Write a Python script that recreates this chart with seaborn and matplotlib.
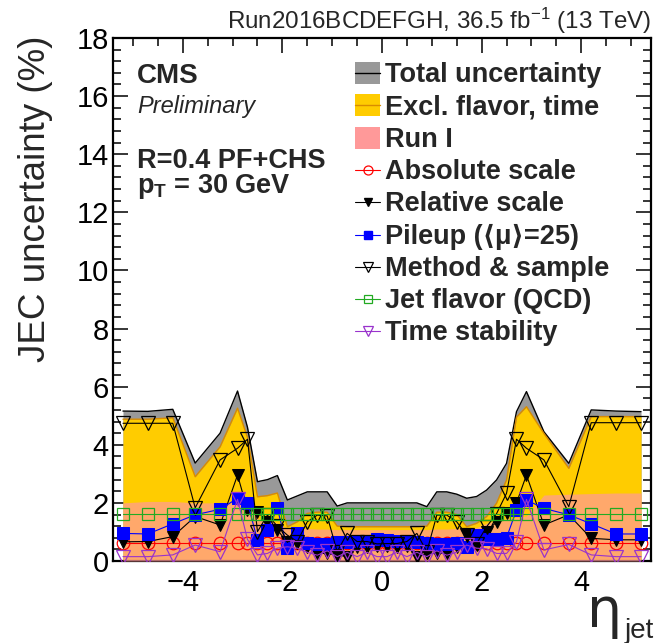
import numpy as np
import pandas as pd
import matplotlib
matplotlib.use("Agg")
import matplotlib.pyplot as plt
import seaborn as sns
from matplotlib.patches import Rectangle
from matplotlib.lines import Line2D
from matplotlib.ticker import MultipleLocator

# ---- data -------------------------------------------------------------
eta = [-5.2, -4.7, -4.2, -3.75, -3.25, -2.9, -2.7, -2.5, -2.3, -2.1,
       -1.9, -1.7, -1.5, -1.3, -1.1, -0.9, -0.7, -0.5, -0.3, -0.1,
       0.1, 0.3, 0.5, 0.7, 0.9, 1.1, 1.3, 1.5, 1.7, 1.9,
       2.1, 2.3, 2.5, 2.7, 2.9, 3.25, 3.75, 4.2, 4.7, 5.2]

total = [5.16, 5.15, 5.22, 3.37, 4.40, 5.85, 4.60, 2.73, 2.80, 2.94,
         2.10, 2.24, 2.38, 2.38, 2.38, 1.89, 2.00, 2.00, 2.00, 2.00,
         2.00, 2.00, 2.00, 2.00, 1.87, 2.38, 2.38, 2.30, 2.16, 2.22,
         2.44, 2.79, 3.36, 5.14, 5.83, 4.45, 3.36, 5.20, 5.16, 5.14]

excl_flavor_time = [4.88, 4.88, 4.93, 2.90, 3.93, 5.26, 4.25, 2.21, 2.25, 2.34,
                    1.18, 1.35, 1.64, 1.68, 1.68, 1.20, 1.18, 1.18, 1.18, 1.18,
                    1.18, 1.18, 1.18, 1.18, 1.20, 1.68, 1.68, 1.60, 1.18, 1.30,
                    1.53, 1.99, 2.79, 4.95, 5.31, 4.39, 3.19, 4.97, 4.97, 4.97]

run1 = [2.00, 2.05, 2.05, 2.00, 2.00, 2.00, 2.00, 1.45, 1.40, 1.30,
        1.12, 1.12, 1.12, 1.10, 1.10, 1.08, 1.08, 1.08, 1.08, 1.08,
        1.08, 1.08, 1.08, 1.08, 1.08, 1.10, 1.10, 1.12, 1.12, 1.15,
        1.30, 1.40, 1.45, 1.50, 1.55, 2.27, 2.30, 2.32, 2.34, 2.34]

absolute = [0.63] * 40

relative = [0.66, 0.67, 0.84, 1.53, 1.24, 2.96, 1.75, 1.70, 1.35, 1.07,
            0.64, 0.64, 0.49, 0.26, 0.26, 0.21, 0.15, 0.49, 0.49, 0.52,
            0.52, 0.49, 0.52, 0.15, 0.26, 0.26, 0.26, 0.49, 0.89, 0.60,
            1.00, 1.35, 1.64, 2.00, 2.96, 1.24, 1.59, 0.78, 0.73, 0.73]

pileup = [0.95, 0.93, 1.28, 1.59, 1.78, 2.16, 2.01, 0.72, 1.07, 1.81,
          0.44, 0.95, 0.63, 0.60, 0.60, 0.67, 0.67, 0.70, 0.70, 0.75,
          0.72, 0.70, 0.70, 0.67, 0.63, 0.60, 0.60, 0.63, 0.49, 0.89,
          0.74, 0.74, 0.80, 1.76, 2.10, 1.81, 1.59, 1.28, 0.93, 0.93]

method = [4.74, 4.74, 4.74, 1.83, 3.48, 3.88, 4.19, 1.01, 1.58, 1.20,
          0.89, 0.67, 1.35, 1.58, 1.55, 0.32, 0.95, 0.67, 0.67, 0.59,
          0.60, 0.60, 0.67, 0.95, 0.32, 1.58, 1.58, 1.35, 0.89, 0.60,
          1.18, 1.63, 2.33, 4.19, 3.88, 3.48, 1.87, 4.76, 4.76, 4.76]

flavor = [1.62] * 40

time_stab = [0.15, 0.15, 0.21, 0.55, 0.32, 2.12, 0.74, 0.21, 0.26, 0.44,
             0.49, 0.44, 0.30, 0.20, 0.35, 0.15, 0.30, 0.15, 0.30, 0.15,
             0.15, 0.30, 0.15, 0.30, 0.15, 0.35, 0.20, 0.30, 0.55, 0.44,
             0.42, 0.26, 0.26, 0.66, 2.12, 0.38, 0.57, 0.21, 0.15, 0.15]

legend_labels = ["Total uncertainty", "Excl. flavor, time", "Run I",
                 "Absolute scale", "Relative scale", "Pileup (\u27e8\u03bc\u27e9=25)",
                 "Method & sample", "Jet flavor (QCD)", "Time stability"]

df = pd.DataFrame({"eta": eta, "total": total, "excl": excl_flavor_time,
                   "run1": run1, "absolute": absolute, "relative": relative,
                   "pileup": pileup, "method": method, "flavor": flavor,
                   "time": time_stab})

# ---- style -------------------------------------------------------------
sns.set_style("ticks")
FONTS = ["Liberation Sans", "DejaVu Sans"]
plt.rcParams["font.family"] = FONTS
plt.rcParams["mathtext.fontset"] = "custom"
plt.rcParams["mathtext.rm"] = "Liberation Sans"
plt.rcParams["mathtext.it"] = "Liberation Sans:italic"
plt.rcParams["mathtext.bf"] = "Liberation Sans:bold"

W, H = 657, 643
fig = plt.figure(figsize=(W / 100, H / 100), dpi=100)
ax = fig.add_axes([113 / W, 1 - 561 / H, 538 / W, 523 / H])

GRAY = "#999999"
YELLOW = "#ffcc00"
ORANGE_LINE = "#d98c00"
PINK = "#ff9999"
PURPLE = "#9933cc"
GREEN = "#22aa22"

# uncertainty bands
ax.fill_between(df["eta"], 0, df["total"], color=GRAY, lw=0, zorder=1)
sns.lineplot(data=df, x="eta", y="total", color="black", lw=1.0, ax=ax, zorder=2)
ax.fill_between(df["eta"], 0, df["excl"], color=YELLOW, lw=0, zorder=2)
sns.lineplot(data=df, x="eta", y="excl", color=ORANGE_LINE, lw=1.0, ax=ax, zorder=3)
ax.fill_between(df["eta"], 0, df["run1"], color=PINK, alpha=0.7, lw=0, zorder=3)

# individual sources
series = [
    ("absolute", dict(color="red", marker="o", markersize=9, markerfacecolor="none",
                      markeredgecolor="red", markeredgewidth=0.9)),
    ("relative", dict(color="black", marker="v", markersize=8, markerfacecolor="black",
                      markeredgecolor="black")),
    ("pileup", dict(color="blue", marker="s", markersize=8, markerfacecolor="blue",
                    markeredgecolor="blue")),
    ("method", dict(color="black", marker="v", markersize=10, markerfacecolor="none",
                    markeredgecolor="black", markeredgewidth=0.9)),
    ("flavor", dict(color=GREEN, marker="s", markersize=8, markerfacecolor="none",
                    markeredgecolor=GREEN, markeredgewidth=0.9)),
    ("time", dict(color=PURPLE, marker="v", markersize=10, markerfacecolor="none",
                  markeredgecolor=PURPLE, markeredgewidth=0.9)),
]
for i, (col, kw) in enumerate(series):
    sns.lineplot(data=df, x="eta", y=col, lw=0.8, ax=ax, zorder=5 + i, **kw)

# ---- axes --------------------------------------------------------------
ax.set_xlim(-5.4, 5.4)
ax.set_ylim(0, 18)
ax.set_xlabel("")
ax.set_ylabel("")
ax.xaxis.set_major_locator(MultipleLocator(2))
ax.xaxis.set_minor_locator(MultipleLocator(0.5))
ax.yaxis.set_major_locator(MultipleLocator(2))
ax.yaxis.set_minor_locator(MultipleLocator(0.4))
ax.tick_params(which="both", direction="in", top=True, right=True, width=1.1,
               labelsize=21, colors="black")
ax.tick_params(which="major", length=11)
ax.tick_params(which="minor", length=6)
ax.tick_params(axis="x", which="major", pad=6)
ax.tick_params(axis="y", which="major", pad=3)
ax.set_xticks([-4, -2, 0, 2, 4])
ax.set_xticklabels(["\u22124", "\u22122", "0", "2", "4"])
for s in ax.spines.values():
    s.set_linewidth(1.6)
    s.set_color("black")

# ---- text --------------------------------------------------------------
def fx(px):
    return px / W


def fy(py):
    return 1 - py / H


fig.text(fx(36), fy(36), "JEC uncertainty (%)", rotation=90,
         ha="center", va="top", fontsize=26.5)
fig.text(fx(651), fy(29), r"Run2016BCDEFGH, 36.5 fb$^{-1}$ (13 TeV)",
         ha="right", va="baseline", fontsize=17.4)
fig.text(fx(587), fy(627), "\u03b7", ha="left", va="baseline", fontsize=40,
         family="DejaVu Sans")
fig.text(fx(625), fy(638), "jet", ha="left", va="baseline", fontsize=20)

fig.text(fx(137), fy(83), "CMS", ha="left", va="baseline",
         fontsize=20, fontweight="bold")
fig.text(fx(137), fy(113), "Preliminary", ha="left", va="baseline",
         fontsize=17, style="italic")
fig.text(fx(137), fy(168), "R=0.4 PF+CHS", ha="left", va="baseline",
         fontsize=19.5, fontweight="bold")
fig.text(fx(137), fy(193), r"$\mathbf{p_{T}}$ = 30 GeV", ha="left",
         va="baseline", fontsize=19.5, fontweight="bold")

# ---- legend (one row every 32.3 px) ------------------------------------
row0, dy = 73, 32.3
hx0, hx1 = 355, 380
band_entries = [(GRAY, "black"), (YELLOW, ORANGE_LINE), (PINK, None)]
for k, label in enumerate(legend_labels):
    yc = row0 + k * dy
    if k < 3:
        face, edge = band_entries[k]
        fig.add_artist(Rectangle((fx(hx0), fy(yc + 11)), (hx1 - hx0) / W, 22 / H,
                                 transform=fig.transFigure, facecolor=face,
                                 edgecolor="none"))
        if edge is not None:
            fig.add_artist(Line2D([fx(hx0), fx(hx1)], [fy(yc), fy(yc)],
                                  transform=fig.transFigure, color=edge, lw=1.0))
    else:
        kw = dict(series[k - 3][1])
        kw["markersize"] = kw["markersize"] * 0.72
        fig.add_artist(Line2D([fx(hx0), fx(hx1)], [fy(yc), fy(yc)],
                              transform=fig.transFigure, lw=0.8, color=kw["color"]))
        fig.add_artist(Line2D([fx((hx0 + hx1) / 2)], [fy(yc)],
                              transform=fig.transFigure, lw=0, **kw))
    fig.text(fx(385), fy(yc + 9), label, ha="left", va="baseline",
             fontsize=19.5, fontweight="bold", family=FONTS)

fig.savefig("out.png", dpi=100)
